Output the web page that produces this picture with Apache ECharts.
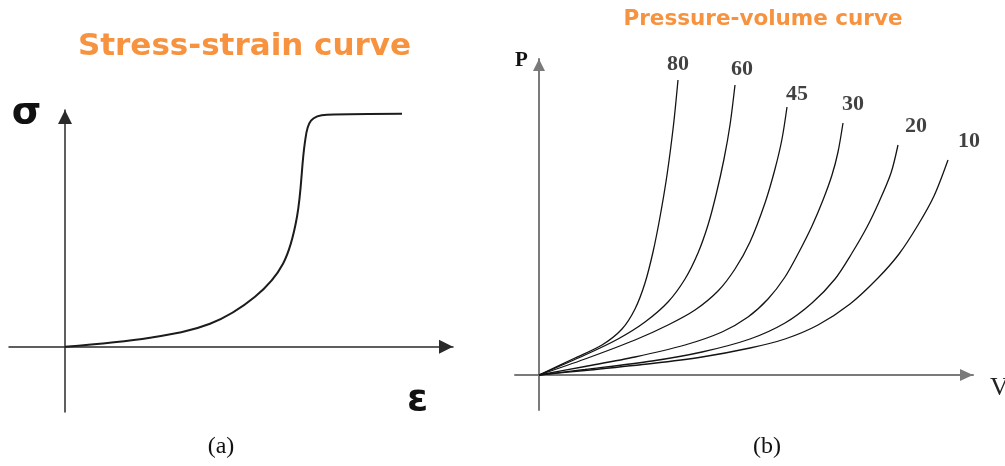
<!DOCTYPE html>
<html>
<head>
<meta charset="utf-8">
<script src="https://cdn.jsdelivr.net/npm/echarts@6/dist/echarts.min.js"></script>
<style>
  html, body { margin: 0; padding: 0; background: #ffffff; }
  #chart { width: 1005px; height: 466px; }
</style>
</head>
<body>
<div id="chart"></div>
<script>
// (a) stress-strain curve, arbitrary units
const strain = [0, 8.5, 14.5, 19.0, 21.8, 23.2, 24.0, 24.6, 26.2, 33.7];
const stress = [0, 0.9, 2.3, 5.0, 8.3, 13.0, 20.5, 22.6, 23.2, 23.3];

// (b) pressure-volume curves, one per label
const pvLabels = ['80', '60', '45', '30', '20', '10'];
const vol80  = [0, 3.6, 6.3, 8.3, 9.6, 10.6, 11.4, 12.1, 12.8, 13.45, 13.9];
const pres80 = [0, 1.7, 3.0, 4.6, 6.6, 9.2, 12.3, 15.8, 20.0, 25.0, 29.5];
const vol60  = [0, 4.6, 7.9, 10.6, 12.9, 14.6, 15.9, 16.9, 17.7, 18.5, 19.1, 19.6];
const pres60 = [0, 2.0, 3.6, 5.3, 7.3, 9.6, 12.2, 15.0, 18.0, 21.6, 25.0, 29.0];
const vol45  = [0, 4.6, 9.6, 12.9, 15.6, 17.9, 19.6, 21.1, 22.6, 23.6, 24.3, 24.8];
const pres45 = [0, 1.6, 3.5, 5.0, 6.5, 8.4, 10.6, 13.3, 17.2, 20.6, 23.6, 26.8];
const vol30  = [0, 4.6, 9.6, 14.6, 18.3, 20.9, 22.9, 24.6, 26.0, 27.3, 28.4, 29.3, 29.9, 30.4];
const pres30 = [0, 0.85, 1.8, 3.0, 4.3, 5.8, 7.6, 9.8, 12.3, 14.9, 17.5, 20.0, 22.3, 25.2];
const vol20  = [0, 4.6, 11.3, 16.3, 21.1, 24.6, 27.3, 29.6, 31.3, 32.8, 34.0, 35.2, 35.9];
const pres20 = [0, 0.55, 1.4, 2.3, 3.6, 5.2, 7.2, 9.6, 12.2, 14.8, 17.3, 20.2, 23.0];
const vol10  = [0, 4.6, 11.3, 16.3, 21.1, 24.6, 27.9, 31.1, 33.9, 36.0, 37.9, 39.5, 40.9];
const pres10 = [0, 0.45, 1.15, 1.8, 2.7, 3.6, 5.0, 7.1, 9.7, 12.1, 15.0, 17.9, 21.5];

const pvVolumes   = [vol80, vol60, vol45, vol30, vol20, vol10];
const pvPressures = [pres80, pres60, pres45, pres30, pres20, pres10];

// label placement relative to the top end of each curve (px)
const labelOffsets = [[0, -16], [7, -16], [10, -13], [10, -19], [18, -19], [21, -19]];

const pair = (xs, ys) => xs.map((x, i) => [x, ys[i]]);

function plainAxis(gridIndex, min, max, color, width, arrow) {
  return {
    type: 'value', gridIndex, min, max,
    axisLine: {
      show: true, onZero: true,
      symbol: ['none', 'triangle'],
      symbolSize: arrow,
      symbolOffset: [0, -arrow[1] / 2],
      lineStyle: { color, width }
    },
    axisTick: { show: false },
    axisLabel: { show: false },
    splitLine: { show: false }
  };
}

const series = [{
  type: 'line', xAxisIndex: 0, yAxisIndex: 0,
  data: pair(strain, stress),
  smooth: 0.35, showSymbol: false, silent: true,
  lineStyle: { color: '#1c1c1c', width: 2 }
}];

pvLabels.forEach((name, k) => {
  series.push({
    type: 'line', name, xAxisIndex: 1, yAxisIndex: 1,
    data: pair(pvVolumes[k], pvPressures[k]),
    smooth: 0.3, showSymbol: false, silent: true,
    lineStyle: { color: '#141414', width: 1.3 }
  });
});

// curve labels at the upper end of each curve
series.push({
  type: 'scatter', xAxisIndex: 1, yAxisIndex: 1, silent: true,
  symbolSize: 0,
  data: pvLabels.map((name, k) => {
    const xs = pvVolumes[k], ys = pvPressures[k];
    return {
      value: [xs[xs.length - 1], ys[ys.length - 1]],
      label: {
        show: true, position: 'inside', offset: labelOffsets[k],
        formatter: name,
        fontFamily: '"Liberation Serif", serif', fontWeight: 'bold',
        fontSize: 22, color: '#111111'
      }
    };
  })
});

const option = {
  animation: false,
  backgroundColor: '#ffffff',
  grid: [
    { left: 9, right: 552, top: 110, bottom: 54 },
    { left: 515, right: 32, top: 59, bottom: 56 }
  ],
  xAxis: [
    plainAxis(0, -5.6, 38.8, '#2a2a2a', 1.5, [14, 14]),
    plainAxis(1, -2.4, 43.4, '#7a7a7a', 2, [12, 13])
  ],
  yAxis: [
    plainAxis(0, -6.53, 23.67, '#2a2a2a', 1.5, [14, 14]),
    plainAxis(1, -3.5, 31.6, '#7a7a7a', 2, [12, 12])
  ],
  series,
  graphic: [
    { type: 'text', x: 244.5, y: 47, style: { text: 'Stress-strain curve', align: 'center', verticalAlign: 'middle',
      font: 'bold 31px "DejaVu Sans", sans-serif', fill: '#f7923f' } },
    { type: 'text', x: 763, y: 19, style: { text: 'Pressure-volume curve', align: 'center', verticalAlign: 'middle',
      font: 'bold 21.5px "DejaVu Sans", sans-serif', fill: '#f7923f' } },
    { type: 'text', x: 26.5, y: 113, style: { text: 'σ', align: 'center', verticalAlign: 'middle',
      font: 'bold 38px "DejaVu Sans", sans-serif', fill: '#111111' } },
    { type: 'text', x: 417.5, y: 400, style: { text: 'ε', align: 'center', verticalAlign: 'middle',
      font: 'bold 38px "DejaVu Sans", sans-serif', fill: '#111111' } },
    { type: 'text', x: 521.5, y: 61, style: { text: 'P', align: 'center', verticalAlign: 'middle',
      font: 'bold 21px "Liberation Serif", serif', fill: '#111111' } },
    { type: 'text', x: 990, y: 388, style: { text: 'V', align: 'left', verticalAlign: 'middle',
      font: '26px "Liberation Serif", serif', fill: '#222222' } },
    { type: 'text', x: 221, y: 447, style: { text: '(a)', align: 'center', verticalAlign: 'middle',
      font: '24px "Liberation Serif", serif', fill: '#111111' } },
    { type: 'text', x: 767, y: 447, style: { text: '(b)', align: 'center', verticalAlign: 'middle',
      font: '24px "Liberation Serif", serif', fill: '#111111' } }
  ]
};

const chart = echarts.init(document.getElementById('chart'), null, { renderer: 'canvas' });
chart.setOption(option);
</script>
</body>
</html>
